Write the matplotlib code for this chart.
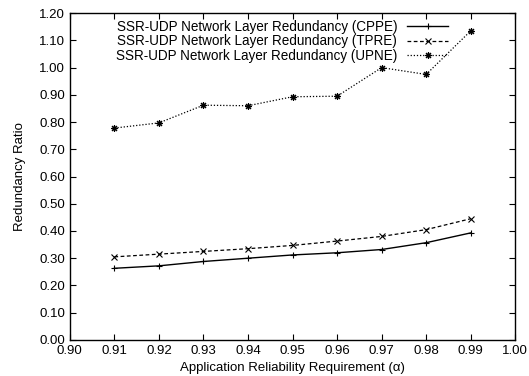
import matplotlib
matplotlib.use("Agg")
import matplotlib.pyplot as plt

x = [0.91, 0.92, 0.93, 0.94, 0.95, 0.96, 0.97, 0.98, 0.99]
cppe = [0.263, 0.272, 0.288, 0.300, 0.312, 0.320, 0.332, 0.357, 0.393]
tpre = [0.305, 0.315, 0.325, 0.335, 0.347, 0.363, 0.380, 0.405, 0.445]
upne = [0.778, 0.797, 0.862, 0.860, 0.893, 0.895, 1.000, 0.975, 1.135]
labels = ["SSR-UDP Network Layer Redundancy (CPPE)",
          "SSR-UDP Network Layer Redundancy (TPRE)",
          "SSR-UDP Network Layer Redundancy (UPNE)"]

plt.rcParams['font.family'] = ['Liberation Sans', 'DejaVu Sans']
fig = plt.figure(figsize=(5.29, 3.76), dpi=100)
ax = fig.add_axes([0.132, 0.096, 0.842, 0.869])

ax.plot(x, cppe, color='black', lw=1.0, ls='-', marker='+', ms=5, mew=0.8, label=labels[0])
ax.plot(x, tpre, color='black', lw=0.9, ls=(0, (3, 2)), marker='x', ms=4, mew=0.8, label=labels[1])
ax.plot(x, upne, color='black', lw=0.9, ls=(0, (1, 1.5)), marker=(8, 2, 0), ms=5, mew=0.8, label=labels[2])

ax.set_xlim(0.90, 1.00)
ax.set_ylim(0.0, 1.2)
ax.set_xticks([0.90 + 0.01 * i for i in range(11)])
ax.set_xticklabels([f"{0.90 + 0.01 * i:.2f}" for i in range(11)])
ax.set_yticks([0.1 * i for i in range(13)])
ax.set_yticklabels([f"{0.1 * i:.2f}" for i in range(13)])
ax.tick_params(direction='in', top=True, right=True, labelsize=9.5, length=4, width=0.8)
for s in ax.spines.values():
    s.set_linewidth(1.0)

ax.set_xlabel("Application Reliability Requirement (\u03b1)", fontsize=9.5, labelpad=4)
ax.set_ylabel("Redundancy Ratio", fontsize=9.5, labelpad=9)

leg = ax.legend(loc='upper left', bbox_to_anchor=(0.085, 1.005), frameon=False, markerfirst=False,
                fontsize=9.75, handlelength=3.0, labelspacing=0.05, borderaxespad=0.2, handletextpad=0.75)
for t in leg.get_texts():
    t.set_ha('right')
    t.set_position((0, 0))

fig.savefig("out.png", dpi=100)
